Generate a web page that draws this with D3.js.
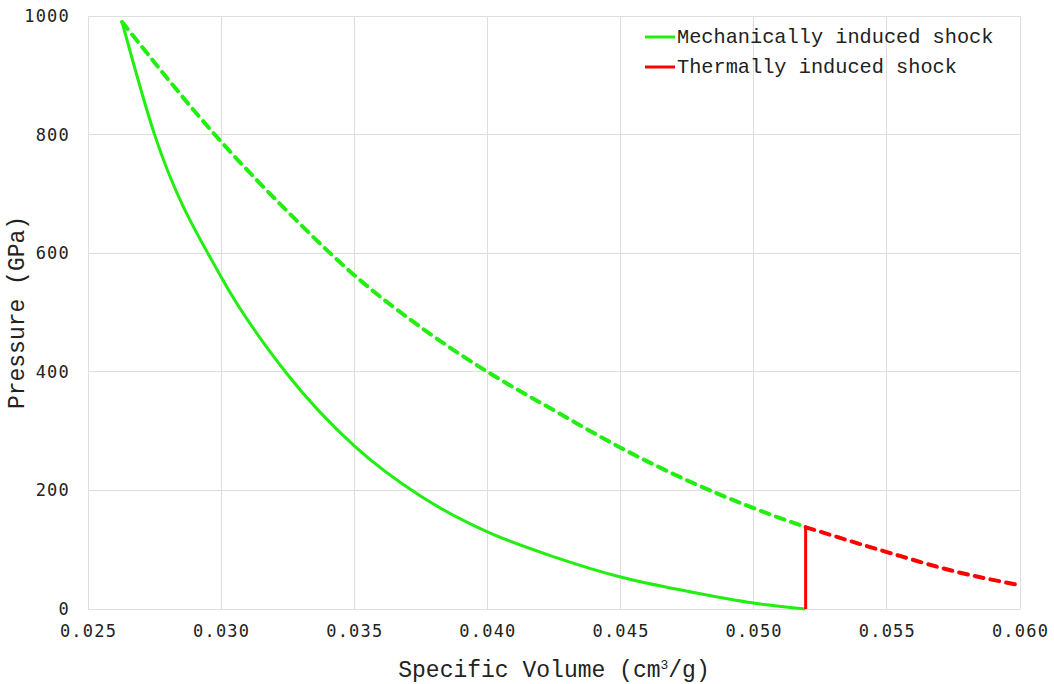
<!DOCTYPE html>
<html>
<head>
<meta charset="utf-8">
<script src="https://cdn.jsdelivr.net/npm/d3@7"></script>
<style>
  body { margin: 0; background: #fff; }
  svg text { fill: #222; }
</style>
</head>
<body>
<svg id="chart" width="1054" height="684"></svg>
<script>
// values: [specific volume, pressure]
const mechSolid = [
  [0.02628, 990], [0.0275, 800], [0.0300, 560], [0.0325, 395], [0.0350, 275],
  [0.0375, 190], [0.0400, 130], [0.0425, 88], [0.0450, 54], [0.0475, 30],
  [0.0500, 10], [0.05195, 0]
];
const mechDashed = [
  [0.02628, 990], [0.0300, 788], [0.0325, 670], [0.0350, 563], [0.0375, 475],
  [0.0400, 400], [0.0425, 335], [0.0450, 272], [0.0475, 217], [0.0500, 170],
  [0.05195, 138]
];
const thermDashed = [[0.05195, 138], [0.0550, 96], [0.0575, 64], [0.0600, 40]];
const thermJump = [[0.05195, 0], [0.05195, 138]];

const xTicks = [0.025, 0.030, 0.035, 0.040, 0.045, 0.050, 0.055, 0.060];
const yTicks = [0, 200, 400, 600, 800, 1000];
const legendItems = ["Mechanically induced shock", "Thermally induced shock"];
const legendColors = ["#22ee11", "#ff0000"];

const green = "#22ee11", red = "#ff0000";
const margin = { left: 88, right: 34, top: 16, bottom: 75 };
const width = 1054 - margin.left - margin.right;
const height = 684 - margin.top - margin.bottom;

const svg = d3.select("#chart");
const g = svg.append("g").attr("transform", "translate(" + margin.left + "," + margin.top + ")");

const x = d3.scaleLinear().domain([0.025, 0.060]).range([0, width]);
const y = d3.scaleLinear().domain([0, 1000]).range([height, 0]);

// grid
g.append("g").selectAll("line").data(xTicks).enter().append("line")
  .attr("x1", d => x(d)).attr("x2", d => x(d))
  .attr("y1", 0).attr("y2", height)
  .attr("stroke", "#dedede").attr("stroke-width", 1).attr("shape-rendering", "crispEdges");
g.append("g").selectAll("line").data(yTicks).enter().append("line")
  .attr("x1", 0).attr("x2", width)
  .attr("y1", d => y(d)).attr("y2", d => y(d))
  .attr("stroke", "#dedede").attr("stroke-width", 1).attr("shape-rendering", "crispEdges");

// axes (labels only)
const tickFont = "'DejaVu Sans Mono', monospace";
const xAxis = g.append("g")
  .attr("transform", "translate(0," + height + ")")
  .call(d3.axisBottom(x).tickValues(xTicks).tickFormat(d3.format(".3f")).tickSize(0).tickPadding(16));
const yAxis = g.append("g")
  .call(d3.axisLeft(y).tickValues(yTicks).tickFormat(d3.format("d")).tickSize(0).tickPadding(18));
[xAxis, yAxis].forEach(a => {
  a.select(".domain").remove();
  a.selectAll("text")
    .style("font-family", tickFont).style("font-size", "17px")
    .style("letter-spacing", "1.2px").attr("fill", "#222");
});

// curves
const line = d3.line().x(d => x(d[0])).y(d => y(d[1])).curve(d3.curveMonotoneX);
const straight = d3.line().x(d => x(d[0])).y(d => y(d[1]));

g.append("path").datum(mechDashed).attr("d", line)
  .attr("fill", "none").attr("stroke", green).attr("stroke-width", 4)
  .attr("stroke-dasharray", "9,7").attr("stroke-linecap", "round");
g.append("path").datum(thermDashed).attr("d", line)
  .attr("fill", "none").attr("stroke", red).attr("stroke-width", 4)
  .attr("stroke-dasharray", "9,7").attr("stroke-linecap", "round");
g.append("path").datum(mechSolid).attr("d", line)
  .attr("fill", "none").attr("stroke", green).attr("stroke-width", 3);
g.append("path").datum(thermJump).attr("d", straight)
  .attr("fill", "none").attr("stroke", red).attr("stroke-width", 3);

// legend
const titleFont = "'Liberation Mono', 'Courier New', monospace";
const legend = svg.append("g").attr("transform", "translate(645,37)");
legendItems.forEach((name, i) => {
  const row = legend.append("g").attr("transform", "translate(0," + (i * 30) + ")");
  row.append("line").attr("x1", 0).attr("x2", 30).attr("y1", 0).attr("y2", 0)
    .attr("stroke", legendColors[i]).attr("stroke-width", 3);
  row.append("text").attr("x", 32).attr("y", 6)
    .style("font-family", titleFont).style("font-size", "20.3px").text(name);
});

// axis titles
const xt = svg.append("text")
  .attr("x", margin.left + width / 2).attr("y", 677)
  .attr("text-anchor", "middle")
  .style("font-family", titleFont).style("font-size", "23px");
xt.append("tspan").text("Specific Volume (cm");
xt.append("tspan").attr("dy", -8).style("font-size", "13px").text("3");
xt.append("tspan").attr("dy", 8).text("/g)");

svg.append("text")
  .attr("transform", "translate(24," + (margin.top + height / 2) + ") rotate(-90)")
  .attr("text-anchor", "middle")
  .style("font-family", titleFont).style("font-size", "23px")
  .text("Pressure (GPa)");
</script>
</body>
</html>
